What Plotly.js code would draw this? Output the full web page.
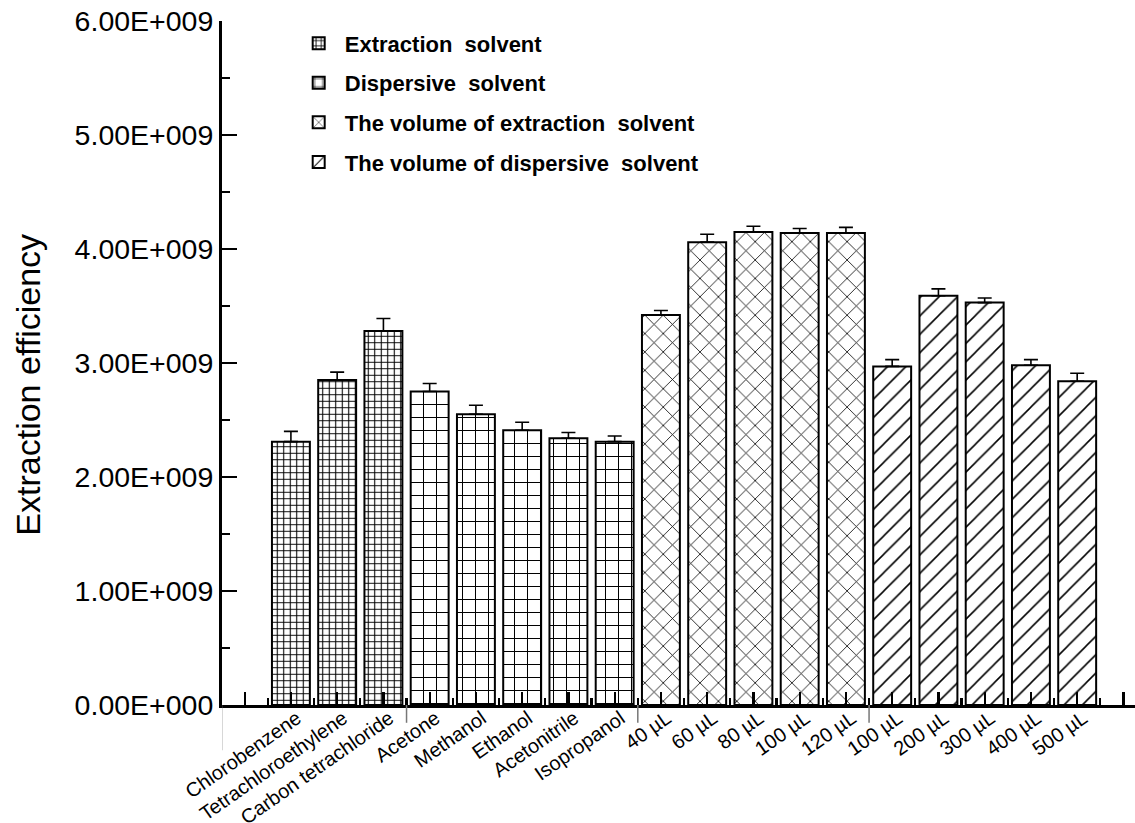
<!DOCTYPE html>
<html>
<head>
<meta charset="utf-8">
<script src="https://cdn.plot.ly/plotly-3.0.1.min.js"></script>
<style>html,body{margin:0;padding:0;background:#fff;}#chart{width:1135px;height:823px;}</style>
</head>
<body>
<div id="chart"></div>
<script>
// ---- data ----
const extractionLabels = ["Chlorobenzene", "Tetrachloroethylene", "Carbon tetrachloride"];
const extractionValues = [2.31e9, 2.85e9, 3.28e9];
const extractionErrors = [0.09e9, 0.07e9, 0.11e9];

const dispersiveLabels = ["Acetone", "Methanol", "Ethanol", "Acetonitrile", "Isopropanol"];
const dispersiveValues = [2.75e9, 2.55e9, 2.41e9, 2.34e9, 2.31e9];
const dispersiveErrors = [0.07e9, 0.08e9, 0.07e9, 0.05e9, 0.05e9];

const extVolumeLabels = ["40 \u00b5L", "60 \u00b5L", "80 \u00b5L", "100 \u00b5L", "120 \u00b5L"];
const extVolumeValues = [3.42e9, 4.06e9, 4.15e9, 4.14e9, 4.14e9];
const extVolumeErrors = [0.04e9, 0.07e9, 0.05e9, 0.04e9, 0.05e9];

const dispVolumeLabels = ["100 \u00b5L", "200 \u00b5L", "300 \u00b5L", "400 \u00b5L", "500 \u00b5L"];
const dispVolumeValues = [2.97e9, 3.59e9, 3.53e9, 2.98e9, 2.84e9];
const dispVolumeErrors = [0.06e9, 0.06e9, 0.04e9, 0.05e9, 0.07e9];

const seriesNames = ["Extraction\u00a0 solvent", "Dispersive\u00a0 solvent",
  "The volume of extraction\u00a0 solvent", "The volume of dispersive\u00a0 solvent"];

const yTickValues = [0, 1e9, 2e9, 3e9, 4e9, 5e9, 6e9];
const yTitle = "Extraction efficiency";

// ---- build ----
const groups = [
  {labels: extractionLabels, values: extractionValues, errors: extractionErrors,
   pattern: {shape: "+", size: 6.5, solidity: 0.3}},
  {labels: dispersiveLabels, values: dispersiveValues, errors: dispersiveErrors,
   pattern: {shape: "+", size: 13, solidity: 0.15}},
  {labels: extVolumeLabels, values: extVolumeValues, errors: extVolumeErrors,
   pattern: {shape: "x", size: 13, solidity: 0.12}},
  {labels: dispVolumeLabels, values: dispVolumeValues, errors: dispVolumeErrors,
   pattern: {shape: "/", size: 13, solidity: 0.12}}
];

let offset = 0;
const allLabels = [];
const traces = groups.map((g, gi) => {
  const xs = g.labels.map((_, i) => offset + i);
  offset += g.labels.length;
  allLabels.push(...g.labels);
  return {
    type: "bar",
    name: "\u00a0" + seriesNames[gi],
    legendgroup: "g" + gi,
    x: xs,
    y: g.values,
    width: 0.82,
    marker: {
      color: "white",
      line: {color: "black", width: 2},
      pattern: Object.assign({fgcolor: "black", bgcolor: "white", fillmode: "replace"}, g.pattern)
    },
    error_y: {
      type: "data", symmetric: false, array: g.errors,
      arrayminus: g.errors.map(() => 0),
      color: "black", thickness: 1.6, width: 7
    },
    hoverinfo: "x+y"
  };
});

const n = allLabels.length;
const tickvals = [-1].concat(allLabels.map((_, i) => i), [n]);
const ticktext = [""].concat(allLabels, [""]);
const minorVals = tickvals.slice(1).map(v => v - 0.5);

function fmtE(v) {
  if (v === 0) return "0.00E+000";
  const [m, e] = v.toExponential(2).split("e");
  const ex = parseInt(e, 10);
  return m + "E" + (ex >= 0 ? "+" : "-") + String(Math.abs(ex)).padStart(3, "0");
}

// group separators below the axis (between groups)
const sepShapes = [];
let acc = 0;
groups.forEach((g, gi) => {
  const pos = acc - 0.5 - (gi === 0 ? 1 : 0);
  sepShapes.push({
    type: "line", xref: "x", yref: "paper",
    x0: pos, x1: pos, y0: 0, y1: gi === 0 ? -0.066 : -0.026,
    line: {color: "#777", width: 1.5}
  });
  acc += g.labels.length;
});

const font = "Liberation Sans, Arial, Helvetica, sans-serif";

const layout = {
  width: 1135, height: 823,
  paper_bgcolor: "white", plot_bgcolor: "white",
  margin: {l: 222, r: 0, t: 21, b: 118},
  barmode: "overlay",
  font: {family: font, color: "black"},
  showlegend: true,
  legend: {
    x: 0.084, xanchor: "left", y: 0.998, yanchor: "top",
    bgcolor: "rgba(0,0,0,0)",
    font: {family: font, size: 22, color: "black", weight: "bold"},
    traceorder: "grouped", tracegroupgap: 8,
    itemclick: false
  },
  xaxis: {
    range: [-1.49, 18.25],
    tickmode: "array", tickvals: tickvals, ticktext: ticktext,
    tickangle: -35,
    tickfont: {family: font, size: 20, color: "black"},
    ticklabelstandoff: -9, ticklabelshift: 6,
    ticks: "inside", ticklen: 13, tickwidth: 2.2, tickcolor: "black",
    minor: {tickvals: minorVals, ticks: "inside", ticklen: 7, tickwidth: 2.2, tickcolor: "black"},
    showline: true, linecolor: "black", linewidth: 3,
    showgrid: false, zeroline: false, fixedrange: true
  },
  yaxis: {
    range: [0, 6e9],
    tickmode: "array", tickvals: yTickValues, ticktext: yTickValues.map(fmtE),
    tickfont: {family: font, size: 28.5, color: "black"},
    ticks: "inside", ticklen: 15, tickwidth: 2.2, tickcolor: "black",
    minor: {dtick: 0.5e9, ticks: "inside", ticklen: 8, tickwidth: 2.2, tickcolor: "black"},
    showline: true, linecolor: "black", linewidth: 3,
    showgrid: false, zeroline: false, fixedrange: true
  },
  annotations: [{
    text: yTitle, xref: "paper", yref: "paper",
    x: -0.212, y: 0.469, xanchor: "center", yanchor: "middle",
    textangle: -90, showarrow: false,
    font: {family: font, size: 34, color: "black"}
  }],
  shapes: sepShapes
};

Plotly.newPlot("chart", traces, layout, {staticPlot: true, displayModeBar: false});
</script>
</body>
</html>
